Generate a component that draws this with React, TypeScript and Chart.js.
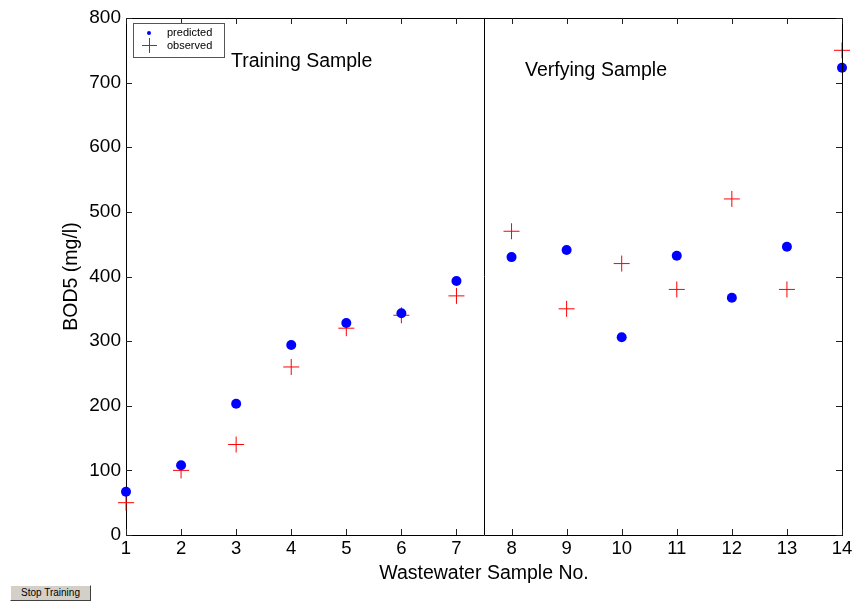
import React, { useEffect, useRef } from "react";
import Chart from "chart.js/auto";

const samples = [1, 2, 3, 4, 5, 6, 7, 8, 9, 10, 11, 12, 13, 14];
const predicted = [67, 108, 203, 294, 328, 343, 393, 430, 441, 306, 432, 367, 446, 723];
const observed = [50, 100, 140, 260, 320, 340, 370, 470, 350, 420, 380, 520, 380, 750];
const xTicks = [1, 2, 3, 4, 5, 6, 7, 8, 9, 10, 11, 12, 13, 14];
const yTicks = [0, 100, 200, 300, 400, 500, 600, 700, 800];
const splitAt = 7.5;

const FONT = "Arial, 'Liberation Sans', Helvetica, sans-serif";

const decorPlugin = {
  id: "decor",
  afterDraw(chart: any) {
    const { ctx, chartArea: a, scales } = chart;
    const xs = scales.x;
    const ys = scales.y;
    ctx.save();
    ctx.strokeStyle = "#000";
    ctx.lineWidth = 1;
    // box top & right
    ctx.beginPath();
    ctx.moveTo(a.left, a.top + 0.5);
    ctx.lineTo(a.right + 0.5, a.top + 0.5);
    ctx.lineTo(a.right + 0.5, a.bottom);
    ctx.stroke();
    // inward ticks
    const tl = 6;
    ctx.strokeStyle = "#222";
    ctx.beginPath();
    xTicks.forEach((v) => {
      const px = Math.round(xs.getPixelForValue(v)) + 0.5;
      ctx.moveTo(px, a.bottom);
      ctx.lineTo(px, a.bottom - tl);
      ctx.moveTo(px, a.top);
      ctx.lineTo(px, a.top + tl);
    });
    yTicks.forEach((v) => {
      const py = Math.round(ys.getPixelForValue(v)) + 0.5;
      ctx.moveTo(a.left, py);
      ctx.lineTo(a.left + tl, py);
      ctx.moveTo(a.right, py);
      ctx.lineTo(a.right - tl, py);
    });
    ctx.stroke();
    // split line
    const sx = Math.round(xs.getPixelForValue(splitAt)) + 0.5;
    ctx.strokeStyle = "#000";
    ctx.beginPath();
    ctx.moveTo(sx, a.top);
    ctx.lineTo(sx, a.bottom);
    ctx.stroke();
    // texts
    ctx.fillStyle = "#000";
    ctx.font = `19.5px ${FONT}`;
    ctx.textBaseline = "middle";
    ctx.textAlign = "left";
    ctx.fillText("Training Sample", 231, 62);
    ctx.fillText("Verfying Sample", 525, 71);
    // legend
    ctx.fillStyle = "#fff";
    ctx.fillRect(133, 23, 91, 34);
    ctx.strokeStyle = "#555";
    ctx.strokeRect(133.5, 23.5, 91, 34);
    ctx.fillStyle = "#0000ff";
    ctx.beginPath();
    ctx.arc(149, 33, 2, 0, Math.PI * 2);
    ctx.fill();
    ctx.fillStyle = "#ff0000";
    ctx.fillRect(142, 45, 15, 1);
    ctx.fillRect(149, 38, 1, 15);
    ctx.fillStyle = "#000";
    ctx.font = `11px ${FONT}`;
    ctx.fillText("predicted", 167, 33);
    ctx.fillText("observed", 167, 46);
    ctx.restore();
  },
};

export default function App() {
  const ref = useRef<HTMLCanvasElement>(null);
  useEffect(() => {
    document.body.style.margin = "0";
    const chart = new Chart(ref.current as HTMLCanvasElement, {
      type: "scatter",
      data: {
        datasets: [
          {
            label: "predicted",
            data: samples.map((s, i) => ({ x: s, y: predicted[i] })),
            pointStyle: "circle",
            pointRadius: 5,
            backgroundColor: "#0000ff",
            borderColor: "#0000ff",
            borderWidth: 0,
            clip: false,
          },
          {
            label: "observed",
            data: samples.map((s, i) => ({ x: s, y: observed[i] })),
            pointStyle: "cross",
            pointRadius: 8,
            borderColor: "#ff0000",
            backgroundColor: "#ff0000",
            borderWidth: 1,
            clip: false,
          },
        ],
      },
      options: {
        responsive: false,
        animation: false,
        layout: { padding: { left: 56, top: 18, right: 14, bottom: 13 } },
        plugins: { legend: { display: false }, tooltip: { enabled: false } },
        scales: {
          x: {
            type: "linear",
            min: 1,
            max: 14,
            afterBuildTicks: (s: any) => {
              s.ticks = xTicks.map((v) => ({ value: v }));
            },
            afterFit: (s: any) => {
              s.height = 54;
            },
            grid: { display: false, drawTicks: false },
            border: { display: true, color: "#000", width: 1 },
            ticks: { color: "#000", font: { family: FONT, size: 18.5 }, padding: 3, maxRotation: 0, autoSkip: false },
            title: { display: true, text: "Wastewater Sample No.", color: "#000", font: { family: FONT, size: 19.5 }, padding: 4 },
          },
          y: {
            type: "linear",
            min: 0,
            max: 800,
            afterBuildTicks: (s: any) => {
              s.ticks = yTicks.map((v) => ({ value: v }));
            },
            afterFit: (s: any) => {
              s.width = 70;
            },
            grid: { display: false, drawTicks: false },
            border: { display: true, color: "#000", width: 1 },
            ticks: { color: "#000", font: { family: FONT, size: 19 }, padding: 5 },
            title: { display: true, text: "BOD5 (mg/l)", color: "#000", font: { family: FONT, size: 19.5 }, padding: 4 },
          },
        },
      },
      plugins: [decorPlugin],
    } as any);
    return () => chart.destroy();
  }, []);
  return (
    <div style={{ position: "fixed", left: 0, top: 0, width: 856, height: 602, background: "#fff" }}>
      <canvas ref={ref} width={856} height={602} style={{ position: "absolute", left: 0, top: 0 }} />
      <div
        style={{
          position: "absolute",
          left: 10,
          top: 585,
          width: 81,
          height: 16,
          boxSizing: "border-box",
          background: "#d4d0c8",
          borderTop: "1px solid #fff",
          borderLeft: "1px solid #fff",
          borderRight: "1px solid #404040",
          borderBottom: "1px solid #404040",
          font: `10px ${FONT}`,
          color: "#000",
          textAlign: "center",
          lineHeight: "14px",
        }}
      >
        Stop Training
      </div>
    </div>
  );
}
